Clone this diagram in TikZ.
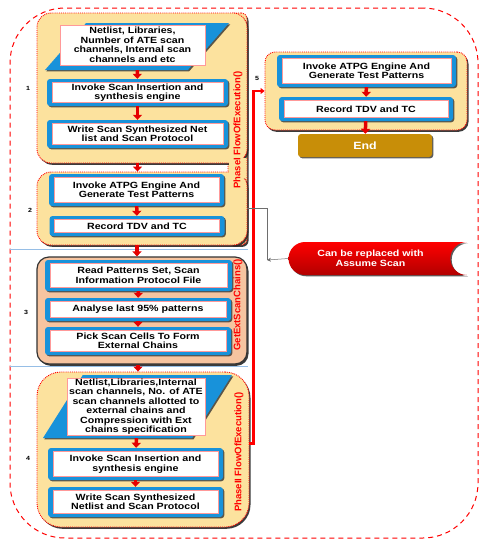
\documentclass[tikz,border=0pt]{standalone}
\usepackage{fontspec}
\setmainfont{Liberation Sans}[FakeStretch=1.18]
\newfontfamily\sidefont{Liberation Sans}
\usepackage{xcolor}
\usetikzlibrary{shapes.geometric,shapes.misc,arrows.meta,shadows}

\definecolor{phaseyellow}{RGB}{252, 226, 158}
\definecolor{chainsalmon}{RGB}{246, 196, 160}
\definecolor{boxblue}{RGB}{24, 146, 218}
\definecolor{endgold}{RGB}{200, 142, 8}
\definecolor{linkgray}{RGB}{110, 110, 110}
\definecolor{sepblue}{RGB}{150, 190, 230}

\tikzset{
  stepbox/.style={rectangle, fill=boxblue, rounded corners=3pt, inner sep=0pt, align=center,
    drop shadow={shadow xshift=1.3pt, shadow yshift=-1.3pt, fill=black!80, opacity=0.8},
    path picture={\draw[sharp corners, draw=red!40, line width=0.4pt, fill=white]
      ([shift={(5pt,3.5pt)}]path picture bounding box.south west) rectangle
      ([shift={(-5pt,-3.5pt)}]path picture bounding box.north east);}},
  inputframe/.style={trapezium, trapezium left angle=68, trapezium right angle=112,
    trapezium stretches=true, fill=boxblue, inner sep=1pt,
    drop shadow={shadow xshift=1.3pt, shadow yshift=-1.3pt, fill=black!80, opacity=0.8}},
  inputbox/.style={rectangle, fill=white, draw=red!40, line width=0.4pt, inner sep=0pt, align=center},
  phasebox/.style={rectangle, rounded corners=14pt, fill=phaseyellow, draw=red, line width=0.9pt,
    densely dotted, drop shadow={shadow xshift=1.5pt, shadow yshift=-1.8pt, fill=black!85, opacity=0.9}},
  chainbox/.style={rectangle, rounded corners=12pt, fill=chainsalmon, draw=black!80, line width=1.2pt,
    drop shadow={shadow xshift=1.5pt, shadow yshift=-1.8pt, fill=black!85, opacity=0.9}},
  sidelabel/.style={rotate=90, text=red, font=\sidefont\bfseries\fontsize{9.5}{10}\selectfont},
  numlabel/.style={font=\bfseries\fontsize{6}{7}\selectfont},
  flowarrow/.style={draw=red!90!black, line width=3.5pt, -{Triangle[width=9pt,length=5pt]}},
  endbox/.style={rectangle, rounded corners=3pt, fill=endgold, text=white,
    drop shadow={shadow xshift=1.3pt, shadow yshift=-1.3pt, fill=black!80, opacity=0.8},
    font=\bfseries\fontsize{10.5}{12}\selectfont},
  notebox/.style={rounded rectangle, rounded rectangle right arc=concave, top color=red,
    bottom color=red!70!black, text=white, align=center,
    drop shadow={shadow xshift=1.3pt, shadow yshift=-1.3pt, fill=black!80, opacity=0.8}},
}

\begin{document}
\begin{tikzpicture}[x=1pt, y=-1pt, every node/.style={font=\bfseries\fontsize{9}{9.5}\selectfont}]
    \useasboundingbox (0,0) rectangle (487,550);

    % Outer frame
    \node[draw=red, dash pattern=on 5pt off 4pt, line width=1pt, rounded corners=55pt,
      minimum width=468pt, minimum height=530pt] (frame) at (244,273) {};

    % Phase I containers
    \node[phasebox, rounded corners=6pt, minimum width=19pt, minimum height=232pt] (strip) at (237.5,129) {};
    \node[phasebox, minimum width=210pt, minimum height=150pt] (c1) at (142,88) {};
    \node[phasebox, minimum width=210pt, minimum height=73pt] (c2) at (142,208.5) {};
    \node[fill=phaseyellow, minimum width=17pt, minimum height=20pt, inner sep=0pt] at (237.5,167.5) {};
    \node[sidelabel] (lab1) at (238,130) {PhaseI FlowOfExecution()};

    % GetExtScanChains container
    \node[chainbox, minimum width=210pt, minimum height=107pt] (c3) at (142,310.5) {};
    \node[sidelabel] (lab3) at (238,305) {GetExtScanChains()};

    % Phase II container
    \node[phasebox, rounded corners=24pt, minimum width=212pt, minimum height=155pt] (c4) at (143,449.5) {};
    \node[sidelabel] (lab4) at (239,452) {PhaseII FlowOfExecution()};

    % Re-run container
    \node[phasebox, rounded corners=10pt, minimum width=202pt, minimum height=78pt] (c5) at (366,91) {};

    % Separators
    \draw[sepblue, line width=0.5pt] (10,249) -- (248,249);
    \draw[sepblue, line width=0.5pt] (10,366) -- (248,366);

    % Block 1
    \node[inputframe, minimum width=184pt, minimum height=47pt] (in1frame) at (137,46.5) {};
    \node[inputbox, minimum width=145pt, minimum height=40pt] (in1) at (132.5,45)
      {Netlist, Libraries,\\Number of ATE scan\\channels, Internal scan\\channels and etc};
    \node[stepbox, minimum width=181pt, minimum height=27pt] (ins1) at (137.5,92.5)
      {Invoke Scan Insertion and\\synthesis engine};
    \node[stepbox, minimum width=181pt, minimum height=28pt] (wr1) at (137.5,134)
      {Write Scan Synthesized Net\\list and Scan Protocol};

    % Block 2
    \node[stepbox, minimum width=175pt, minimum height=32pt] (atpg2) at (136.5,190)
      {Invoke ATPG Engine And\\Generate Test Patterns};
    \node[stepbox, minimum width=175pt, minimum height=20pt] (rec2) at (137,226) {Record TDV and TC};

    % Block 3
    \node[stepbox, minimum width=187pt, minimum height=31pt] (read3) at (138.5,275.5)
      {Read Patterns Set, Scan\\Information Protocol File};
    \node[stepbox, minimum width=186pt, minimum height=23pt] (ana3) at (138,309.5) {Analyse last 95\% patterns};
    \node[stepbox, minimum width=186pt, minimum height=28pt] (pick3) at (138,341)
      {Pick Scan Cells To Form\\External Chains};

    % Block 4
    \node[inputframe, trapezium left angle=70, trapezium right angle=110,
      minimum width=189pt, minimum height=63pt] (in4frame) at (137.5,406.5) {};
    \node[inputbox, minimum width=138pt, minimum height=57pt] (in4) at (136,406.5)
      {Netlist,Libraries,Internal\\scan channels, No. of ATE\\scan channels allotted to\\external chains and\\Compression with Ext\\chains specification};
    \node[stepbox, minimum width=175pt, minimum height=32pt] (ins4) at (135.5,464)
      {Invoke Scan Insertion and\\synthesis engine};
    \node[stepbox, minimum width=175pt, minimum height=30pt] (wr4) at (135.5,502)
      {Write Scan Synthesized\\Netlist and Scan Protocol};

    % Block 5
    \node[stepbox, minimum width=179pt, minimum height=32pt] (atpg5) at (366.5,71)
      {Invoke ATPG Engine And\\Generate Test Patterns};
    \node[stepbox, minimum width=174pt, minimum height=24pt] (rec5) at (366,109) {Record TDV and TC};
    \node[endbox, minimum width=134pt, minimum height=23pt] (endnode) at (365,145.5) {End};

    % Note
    \node[notebox, minimum width=185pt, minimum height=33pt] (note) at (370.5,258.5)
      {Can be replaced with\\Assume Scan};
    \coordinate (corner) at (267,260);

    % Step numbers
    \node[numlabel] (n1) at (28,88) {1};
    \node[numlabel] (n2) at (30,210) {2};
    \node[numlabel] (n3) at (26,312) {3};
    \node[numlabel] (n4) at (28,458) {4};
    \node[numlabel] (n5) at (257,78) {5};

    % Flow arrows
    \draw[flowarrow] (in1frame) -- (ins1);
    \draw[flowarrow] (ins1) -- (wr1);
    \draw[flowarrow] (c1.south -| wr1) -- (c2.north -| wr1);
    \draw[flowarrow] (atpg2) -- (rec2);
    \draw[flowarrow] (c2.south -| rec2) -- (c3.north -| rec2);
    \draw[flowarrow] (read3) -- (ana3);
    \draw[flowarrow] (ana3) -- (pick3);
    \draw[flowarrow] (c3.south -| pick3) -- (c4.north -| pick3);
    \draw[flowarrow] (in4frame) -- (ins4);
    \draw[flowarrow] (ins4) -- (wr4);
    \draw[flowarrow] (atpg5) -- (rec5);
    \draw[flowarrow] (rec5) -- (endnode);

    % Links
    \draw[red, line width=2.2pt, -{Triangle[width=6pt,length=4pt]}] ([yshift=6pt]c4.east) -- ++(4,0) |- (c5.west);
    \draw[linkgray, line width=0.5pt] (c2.east) -| (corner);
    \draw[linkgray, line width=0.5pt, -{Stealth[length=4pt,width=4pt]}] (note.west) -- (corner);
\end{tikzpicture}
\end{document}
